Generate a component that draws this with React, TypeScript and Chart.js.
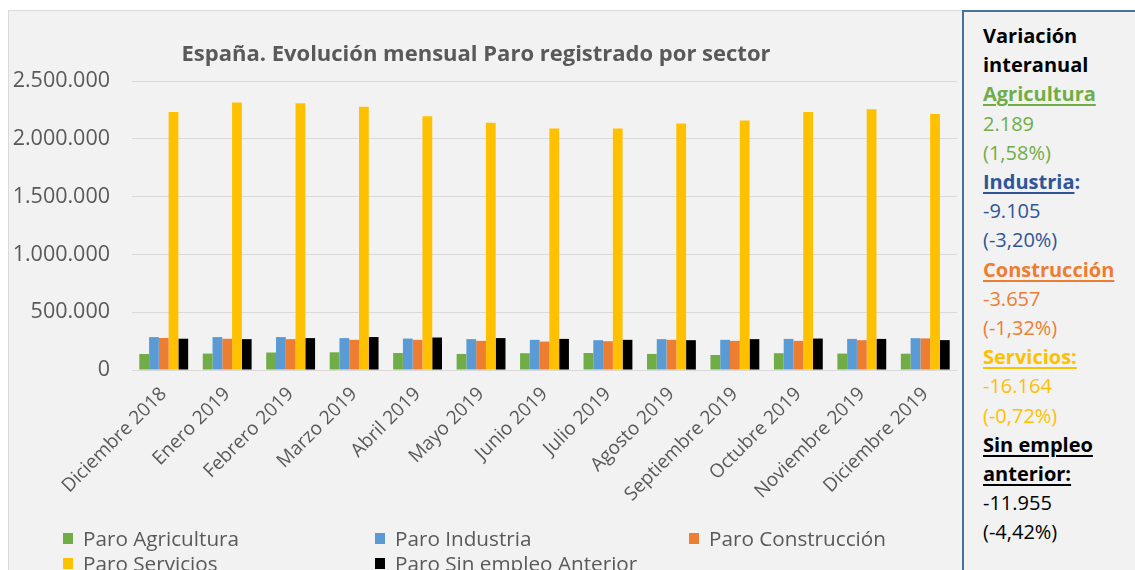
import React, { useEffect, useRef } from "react";
import { Chart, registerables } from "chart.js";
Chart.register(...registerables);

const categories = [
  "Diciembre 2018", "Enero 2019", "Febrero 2019", "Marzo 2019", "Abril 2019", "Mayo 2019",
  "Junio 2019", "Julio 2019", "Agosto 2019", "Septiembre 2019", "Octubre 2019", "Noviembre 2019", "Diciembre 2019",
];
const paroAgricultura = [138500, 142000, 151000, 153000, 147000, 139000, 145000, 147000, 139000, 130000, 145000, 142000, 140700];
const paroIndustria = [284500, 285000, 285000, 276000, 272000, 267000, 261000, 258000, 267000, 261000, 269000, 269000, 275400];
const paroConstruccion = [277000, 270000, 267000, 261000, 261000, 252000, 246000, 249000, 261000, 252000, 252000, 258000, 273400];
const paroServicios = [2231800, 2315000, 2307000, 2278000, 2194000, 2139000, 2089000, 2089000, 2133000, 2159000, 2231000, 2255000, 2215600];
const paroSinEmpleo = [270500, 267000, 276000, 285000, 281000, 276000, 269000, 261000, 258000, 267000, 272000, 269000, 258500];
const yTickValues = [0, 500000, 1000000, 1500000, 2000000, 2500000];

const seriesNames = ["Paro Agricultura", "Paro Industria", "Paro Construcción", "Paro Servicios", "Paro Sin empleo Anterior"];
const seriesColors = ["#70ad47", "#5b9bd5", "#ed7d31", "#ffc000", "#000000"];
const seriesData = [paroAgricultura, paroIndustria, paroConstruccion, paroServicios, paroSinEmpleo];

const fmt = (v: number) => String(Math.round(v)).replace(/\B(?=(\d{3})+(?!\d))/g, ".");

const FONT = "'Open Sans', sans-serif";
const GRAY = "#595959";

export default function App() {
  const ref = useRef<HTMLCanvasElement | null>(null);
  useEffect(() => {
    if (!ref.current) return;
    const chart = new Chart(ref.current, {
      type: "bar",
      data: {
        labels: categories,
        datasets: seriesNames.map((n, i) => ({
          label: n,
          data: seriesData[i],
          backgroundColor: seriesColors[i],
          borderWidth: 0,
          categoryPercentage: 0.77,
          barPercentage: 1,
        })),
      },
      options: {
        animation: false,
        responsive: false,
        maintainAspectRatio: false,
        layout: { padding: { top: 71, right: 5, left: 0, bottom: 0 } },
        plugins: { legend: { display: false }, title: { display: false }, tooltip: { enabled: false } },
        scales: {
          x: {
            grid: { display: false, drawTicks: false },
            border: { display: false },
            ticks: {
              autoSkip: false,
              minRotation: 45,
              maxRotation: 45,
              padding: 13,
              color: GRAY,
              font: { family: FONT, size: 19 },
            },
            afterFit: (s: any) => { s.height = 200; },
          },
          y: {
            min: 0,
            max: 2500000,
            afterBuildTicks: (s: any) => { s.ticks = yTickValues.map((v) => ({ value: v })); },
            grid: { color: "#d9d9d9", lineWidth: 1, drawTicks: false },
            border: { display: false },
            ticks: {
              padding: 22,
              color: GRAY,
              font: { family: FONT, size: 21.5 },
              callback: (v: any) => fmt(Number(v)),
            },
            afterFit: (s: any) => { s.width = 124; },
          },
        },
      },
    });
    return () => chart.destroy();
  }, []);

  const legendPos = [
    { x: 63, y: 538 }, { x: 375, y: 538 }, { x: 689, y: 538 },
    { x: 63, y: 563 }, { x: 375, y: 563 },
  ];

  const line = (content: React.ReactNode, i: number) => (
    <div key={i} style={{ position: "absolute", left: 983, top: 36 + i * 29.2 - 15, height: 30, lineHeight: "30px", whiteSpace: "nowrap" }}>
      {content}
    </div>
  );
  const u = { textDecoration: "underline", textDecorationThickness: "2px", textUnderlineOffset: "3px" } as React.CSSProperties;
  const green = "#70ad47", blue = "#2f5597", orange = "#ed7d31", yellow = "#ffc000";
  const panelLines: React.ReactNode[] = [
    <b style={{ color: "#000" }}>Variación</b>,
    <b style={{ color: "#000" }}>interanual</b>,
    <b style={{ color: green, ...u }}>Agricultura</b>,
    <span style={{ color: green }}>2.189</span>,
    <span style={{ color: green }}>(1,58%)</span>,
    <b style={{ color: blue }}><span style={u}>Industria</span>:</b>,
    <span style={{ color: blue }}>-9.105</span>,
    <span style={{ color: blue }}>(-3,20%)</span>,
    <b style={{ color: orange, ...u }}>Construcción</b>,
    <span style={{ color: orange }}>-3.657</span>,
    <span style={{ color: orange }}>(-1,32%)</span>,
    <b style={{ color: yellow, ...u }}>Servicios:</b>,
    <span style={{ color: yellow }}>-16.164</span>,
    <span style={{ color: yellow }}>(-0,72%)</span>,
    <b style={{ color: "#000", ...u }}>Sin empleo</b>,
    <b style={{ color: "#000", ...u }}>anterior:</b>,
    <span style={{ color: "#000" }}>-11.955</span>,
    <span style={{ color: "#000" }}>(-4,42%)</span>,
  ];

  return (
    <div style={{ position: "fixed", left: 0, top: 0, width: 1135, height: 570, overflow: "hidden", background: "#ffffff", fontFamily: FONT }}>
      <div style={{ position: "absolute", left: 8, top: 10, width: 953, height: 600, background: "#f2f2f2", border: "1px solid #d9d9d9" }} />
      <canvas ref={ref} width={954} height={560} style={{ position: "absolute", left: 8, top: 10, width: 954, height: 560 }} />
      <div style={{ position: "absolute", left: 126, top: 35, width: 700, textAlign: "center", fontWeight: 700, fontSize: 22, color: GRAY, lineHeight: "34px", whiteSpace: "nowrap" }}>
        España. Evolución mensual Paro registrado por sector
      </div>
      {seriesNames.map((n, i) => (
        <div key={n} style={{ position: "absolute", left: legendPos[i].x, top: legendPos[i].y - 14, height: 28, display: "flex", alignItems: "center", whiteSpace: "nowrap", fontSize: 20.7, color: GRAY }}>
          <span style={{ display: "inline-block", width: 10, height: 11, background: seriesColors[i], marginRight: 10 }} />
          {n}
        </div>
      ))}
      <div style={{ position: "absolute", left: 962, top: 10, width: 200, height: 600, background: "#f2f2f2", borderLeft: "2px solid #44729d", borderTop: "2px solid #44729d" }} />
      <div style={{ position: "absolute", left: 0, top: 0, fontSize: 20 }}>
        {panelLines.map((c, i) => line(c, i))}
      </div>
    </div>
  );
}
